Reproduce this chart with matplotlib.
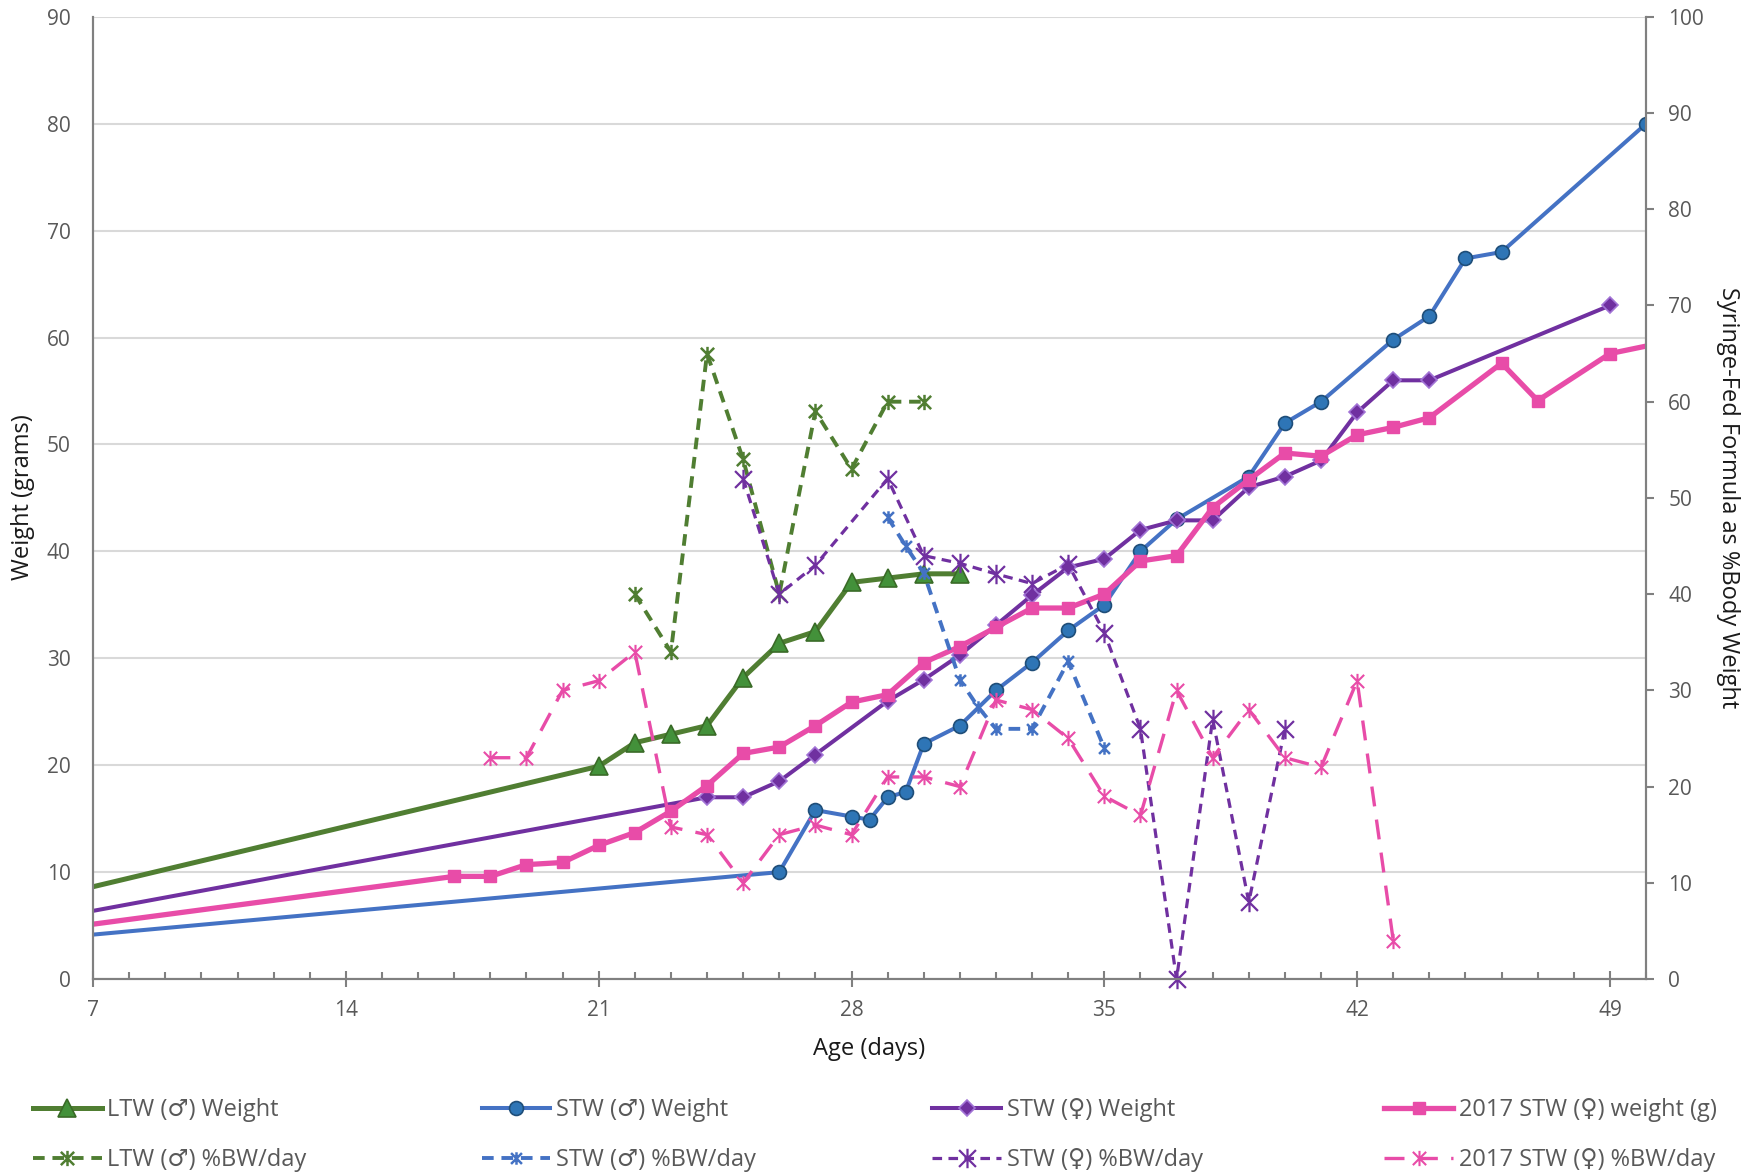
import matplotlib
matplotlib.use('Agg')
import matplotlib.pyplot as plt
from matplotlib.path import Path
from matplotlib.ticker import MultipleLocator

plt.rcParams['font.family'] = ['Open Sans', 'DejaVu Sans']

# --- weights (grams), left axis ---
ltw_days = [0, 21, 22, 23, 24, 25, 26, 27, 28, 29, 30, 31]
ltw_wt = [3.0, 19.9, 22.1, 22.9, 23.7, 28.2, 31.4, 32.5, 37.1, 37.5, 37.9, 37.9]

stw_m_days = [0, 26, 27, 28, 28.5, 29, 29.5, 30, 31, 32, 33, 34, 35, 36, 37, 39, 40, 41, 43, 44, 45, 46, 50]
stw_m_wt = [2.0, 10.0, 15.8, 15.2, 14.9, 17.0, 17.5, 22.0, 23.7, 27.0, 29.6, 32.6, 35.0, 40.0, 43.0, 47.0,
            52.0, 54.0, 59.8, 62.0, 67.4, 68.0, 80.0]

stw_f_days = [0, 24, 25, 26, 27, 29, 30, 31, 32, 33, 34, 35, 36, 37, 38, 39, 40, 41, 42, 43, 44, 49]
stw_f_wt = [2.0, 17.0, 17.0, 18.5, 21.0, 26.0, 28.0, 30.3, 33.1, 35.9, 38.5, 39.3, 42.0, 42.9, 42.9, 46.0,
            47.0, 48.5, 53.0, 56.0, 56.0, 63.0]

f17_days = [0, 17, 18, 19, 20, 21, 22, 23, 24, 25, 26, 27, 28, 29, 30, 31, 32, 33, 34, 35, 36, 37, 38, 39,
            40, 41, 42, 43, 44, 46, 47, 49, 56]
f17_wt = [2.0, 9.6, 9.6, 10.7, 10.9, 12.5, 13.7, 15.7, 18.1, 21.1, 21.7, 23.7, 25.9, 26.6, 29.6, 31.1, 32.9,
          34.7, 34.7, 36.0, 39.1, 39.6, 44.1, 46.7, 49.2, 48.9, 50.9, 51.6, 52.5, 57.6, 54.1, 58.5, 63.4]

# --- formula as % body weight per day, right axis ---
ltw_pct_days = [22, 23, 24, 25, 26, 27, 28, 29, 30]
ltw_pct = [40, 34, 65, 54, 40, 59, 53, 60, 60]

stw_m_pct_days = [29, 29.5, 30, 31, 31.5, 32, 33, 34, 35]
stw_m_pct = [48, 45, 42.2, 31.1, 28.3, 26, 26, 33, 24]

stw_f_pct_days = [25, 26, 27, 29, 30, 31, 32, 33, 34, 35, 36, 37, 38, 39, 40]
stw_f_pct = [52, 40, 43, 52, 44, 43.2, 42.1, 41.1, 43.1, 36, 26, 0, 27, 8, 26]

f17_pct_days = [18, 19, 20, 21, 22, 23, 24, 25, 26, 27, 28, 29, 30, 31, 32, 33, 34, 35, 36, 37, 38, 39, 40,
                41, 42, 43]
f17_pct = [23, 23, 30, 31, 34, 15.8, 15, 10, 15, 16, 15, 21, 21, 20, 29, 28, 25, 19, 17, 30, 23, 28, 23,
           22, 31, 4]

labels = ['LTW (♂) Weight', 'LTW (♂) %BW/day',
          'STW (♂) Weight', 'STW (♂) %BW/day',
          'STW (♀) Weight', 'STW (♀) %BW/day',
          '2017 STW (♀) weight (g)', '2017 STW (♀) %BW/day']

GREEN = '#507E32'
BLUE = '#4472C4'
PURPLE = '#7030A0'
PINK = '#E84CA8'
GREY = '#595959'
AXIS = '#808080'

# excel style "star" marker: an X with a vertical bar
star = Path([(-1, -1), (1, 1), (-1, 1), (1, -1), (0, -1.15), (0, 1.15)],
            [Path.MOVETO, Path.LINETO, Path.MOVETO, Path.LINETO, Path.MOVETO, Path.LINETO])

fig = plt.figure(figsize=(17.59, 11.76), dpi=100)
ax = fig.add_axes([0.0529, 0.1675, 0.8829, 0.8182])
ax2 = ax.twinx()

h = []
h.append(ax.plot(ltw_days, ltw_wt, color=GREEN, lw=3.6, marker='^', ms=13,
                 mfc='#43913A', mec='#3A6B27', mew=1.2)[0])
h.append(ax2.plot(ltw_pct_days, ltw_pct, color=GREEN, lw=2.8, ls=(0, (3, 2)), marker=star, ms=11,
                  mfc='none', mec=GREEN, mew=1.8, clip_on=False)[0])
h.append(ax.plot(stw_m_days, stw_m_wt, color=BLUE, lw=2.9, marker='o', ms=10,
                 mfc='#2E75B6', mec='#1F4E79', mew=1.2)[0])
h.append(ax2.plot(stw_m_pct_days, stw_m_pct, color=BLUE, lw=2.8, ls=(0, (3, 2)), marker=star, ms=9,
                  mfc='none', mec=BLUE, mew=1.8, clip_on=False)[0])
h.append(ax.plot(stw_f_days, stw_f_wt, color=PURPLE, lw=2.9, marker='D', ms=8,
                 mfc=PURPLE, mec='#A274D6', mew=1.2)[0])
h.append(ax2.plot(stw_f_pct_days, stw_f_pct, color=PURPLE, lw=2.3, ls=(0, (3, 2)), marker=star, ms=14,
                  mfc='none', mec=PURPLE, mew=1.6, clip_on=False)[0])
h.append(ax.plot(f17_days, f17_wt, color=PINK, lw=3.8, marker='s', ms=9,
                 mfc=PINK, mec=PINK)[0])
h.append(ax2.plot(f17_pct_days, f17_pct, color=PINK, lw=2.4, ls=(0, (6, 4)), marker=star, ms=11,
                  mfc='none', mec=PINK, mew=1.5, clip_on=False)[0])

# axes, ticks, grid
ax.set_xlim(7, 50)
ax.set_ylim(0, 90)
ax2.set_ylim(0, 100)
ax.xaxis.set_major_locator(MultipleLocator(7))
ax.xaxis.set_minor_locator(MultipleLocator(1))
ax.yaxis.set_major_locator(MultipleLocator(10))
ax2.yaxis.set_major_locator(MultipleLocator(10))
ax.grid(axis='y', color='#D9D9D9', lw=1.5)
ax.set_axisbelow(True)

for a in (ax, ax2):
    a.spines['top'].set_visible(False)
    for s in ('left', 'right', 'bottom'):
        a.spines[s].set_color(AXIS)
        a.spines[s].set_linewidth(1.5)

ax.tick_params(axis='x', which='major', direction='inout', length=12, width=1.5, color=AXIS,
               labelsize=15, labelcolor=GREY, pad=9)
ax.tick_params(axis='x', which='minor', direction='in', length=5, width=1.5, color=AXIS)
ax.tick_params(axis='y', length=0, labelsize=15, labelcolor=GREY, pad=16)
ax2.tick_params(axis='y', direction='out', length=6, width=1.5, color=AXIS,
                labelsize=15, labelcolor=GREY, pad=10)

fig.text(0.494, 0.108, 'Age (days)', ha='center', va='center', fontsize=17, color='#1a1a1a')
fig.text(0.0131, 0.577, 'Weight (grams)', ha='center', va='center', rotation=90,
         fontsize=17, color='#1a1a1a')
fig.text(0.9824, 0.577, 'Syringe-Fed Formula as %Body Weight', ha='center', va='center', rotation=270,
         fontsize=17, color='#1a1a1a')

# legend: four columns, two rows each
col_x = [0.0188, 0.274, 0.530, 0.787]
for i, x in enumerate(col_x):
    leg = fig.legend(h[2 * i:2 * i + 2], labels[2 * i:2 * i + 2], loc='upper left',
                     bbox_to_anchor=(x, 0.0665), frameon=False, fontsize=17,
                     handlelength=2.9, handletextpad=0.25, labelspacing=1.1,
                     borderpad=0, borderaxespad=0)
    for t in leg.get_texts():
        t.set_color(GREY)

fig.savefig('out.png', dpi=100)
